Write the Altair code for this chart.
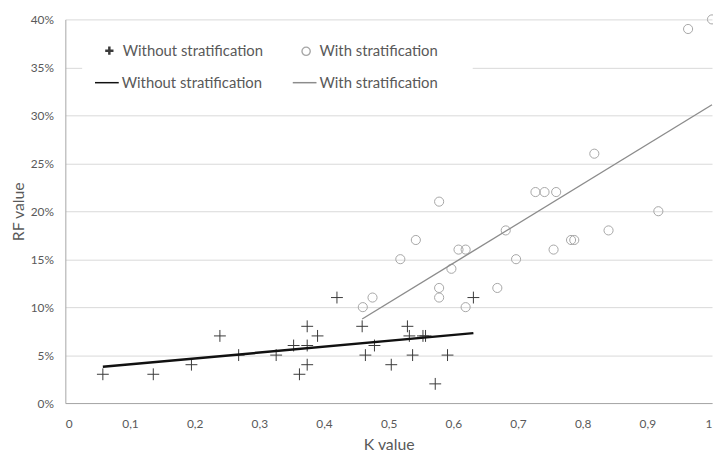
import altair as alt
import pandas as pd

# --- data ---
series_names = ["Without stratification", "With stratification"]

without_k = [0.058, 0.136, 0.195, 0.239, 0.268, 0.326, 0.353, 0.362, 0.374, 0.374,
             0.374, 0.390, 0.420, 0.459, 0.464, 0.478, 0.504, 0.529, 0.532, 0.537,
             0.553, 0.557, 0.572, 0.591, 0.631]
without_rf = [0.03, 0.03, 0.04, 0.07, 0.05, 0.05, 0.06, 0.03, 0.04, 0.06,
              0.08, 0.07, 0.11, 0.08, 0.05, 0.06, 0.04, 0.08, 0.07, 0.05,
              0.07, 0.07, 0.02, 0.05, 0.11]

with_k = [0.460, 0.475, 0.518, 0.542, 0.578, 0.578, 0.578, 0.597, 0.608, 0.619,
          0.619, 0.668, 0.681, 0.697, 0.727, 0.741, 0.759, 0.755, 0.782, 0.787,
          0.818, 0.840, 0.917, 0.963, 1.000]
with_rf = [0.10, 0.11, 0.15, 0.17, 0.21, 0.12, 0.11, 0.14, 0.16, 0.16,
           0.10, 0.12, 0.18, 0.15, 0.22, 0.22, 0.22, 0.16, 0.17, 0.17,
           0.26, 0.18, 0.20, 0.39, 0.40]

# trendline end points (as drawn in the reference)
trend_without_k = [0.058, 0.631]
trend_without_rf = [0.0378, 0.0729]
trend_with_k = [0.459, 1.000]
trend_with_rf = [0.0876, 0.311]

x_ticks = [0, 0.1, 0.2, 0.3, 0.4, 0.5, 0.6, 0.7, 0.8, 0.9, 1.0]
y_ticks = [0, 0.05, 0.10, 0.15, 0.20, 0.25, 0.30, 0.35, 0.40]

point_colors = ["#3a3a3a", "#a6a6a6"]
line_colors = ["#111111", "#8c8c8c"]

points_df = pd.DataFrame({
    "k": without_k + with_k,
    "rf": without_rf + with_rf,
    "series": [series_names[0]] * len(without_k) + [series_names[1]] * len(with_k),
})
lines_df = pd.DataFrame({
    "k": trend_without_k + trend_with_k,
    "rf": trend_without_rf + trend_with_rf,
    "trend": [series_names[0]] * 2 + [series_names[1]] * 2,
})

FONT = "Lato"
TXT = "#595959"
cross_path = "M-1,0L1,0M0,-1L0,1"

x_enc = alt.X(
    "k:Q",
    scale=alt.Scale(domain=[0, 1], nice=False),
    axis=alt.Axis(
        values=x_ticks,
        labelExpr="replace(format(datum.value, '.1~f'), '.', ',')",
        grid=False, ticks=False, domainColor="#a6a6a6",
        labelFont=FONT, labelFontSize=12, labelColor=TXT, labelPadding=16,
        title="K value", titleFont=FONT, titleFontSize=16, titleFontWeight="normal",
        titleColor=TXT, titlePadding=7,
    ),
)
y_enc = alt.Y(
    "rf:Q",
    scale=alt.Scale(domain=[0, 0.4], nice=False),
    axis=alt.Axis(
        values=y_ticks, format=".0%",
        grid=True, gridColor="#d9d9d9", ticks=False, domainColor="#a6a6a6",
        labelFont=FONT, labelFontSize=12, labelColor=TXT, labelPadding=12,
        title="RF value", titleFont=FONT, titleFontSize=16, titleFontWeight="normal",
        titleColor=TXT, titlePadding=4,
    ),
)

sym_color_expr = "datum.value === '%s' ? '%s' : '%s'" % (series_names[0], point_colors[0], point_colors[1])

legend_pts = alt.Legend(
    orient="none", legendX=37, legendY=24, direction="horizontal", columns=2,
    title=None, labelFont=FONT, labelFontSize=15, labelColor=TXT,
    symbolSize=70, symbolStrokeWidth=0.9, labelOffset=6, columnPadding=36, padding=0,
    symbolStrokeColor={"expr": sym_color_expr}, symbolFillColor="transparent",
)
legend_lines = alt.Legend(
    orient="none", legendX=29, legendY=51, direction="horizontal", columns=2,
    title=None, labelFont=FONT, labelFontSize=15, labelColor=TXT,
    symbolSize=576, labelOffset=2, columnPadding=28, padding=0, symbolType="stroke",
)

bg = alt.Chart(pd.DataFrame({"a": [0]})).mark_rect(fill="white").encode(
    x=alt.value(17), x2=alt.value(412), y=alt.value(11), y2=alt.value(80)
)

points = alt.Chart(points_df).mark_point(filled=False, strokeWidth=1, opacity=1).encode(
    x=x_enc,
    y=y_enc,
    shape=alt.Shape("series:N",
                    scale=alt.Scale(domain=series_names, range=[cross_path, "circle"]),
                    legend=legend_pts),
    color=alt.Color("series:N",
                    scale=alt.Scale(domain=series_names, range=point_colors),
                    legend=None),
    size=alt.condition(alt.datum.series == series_names[0], alt.value(144), alt.value(85)),
)

lines = alt.Chart(lines_df).mark_line().encode(
    x="k:Q",
    y="rf:Q",
    color=alt.Color("trend:N",
                    scale=alt.Scale(domain=series_names, range=line_colors),
                    legend=legend_lines),
    strokeWidth=alt.StrokeWidth("trend:O",
                                scale=alt.Scale(domain=series_names, range=[2.5, 1.4]),
                                legend=legend_lines),
)

chart = (
    alt.layer(bg, points, lines)
    .resolve_scale(color="independent")
    .resolve_legend(color="independent")
    .properties(
        width=654, height=388,
        autosize=alt.AutoSizeParams(type="none"),
        padding={"left": 58, "top": 9, "right": 1, "bottom": 50},
    )
    .configure_view(stroke=None)
)

chart.save("out.html", embed_options={"renderer": "svg", "actions": False})
